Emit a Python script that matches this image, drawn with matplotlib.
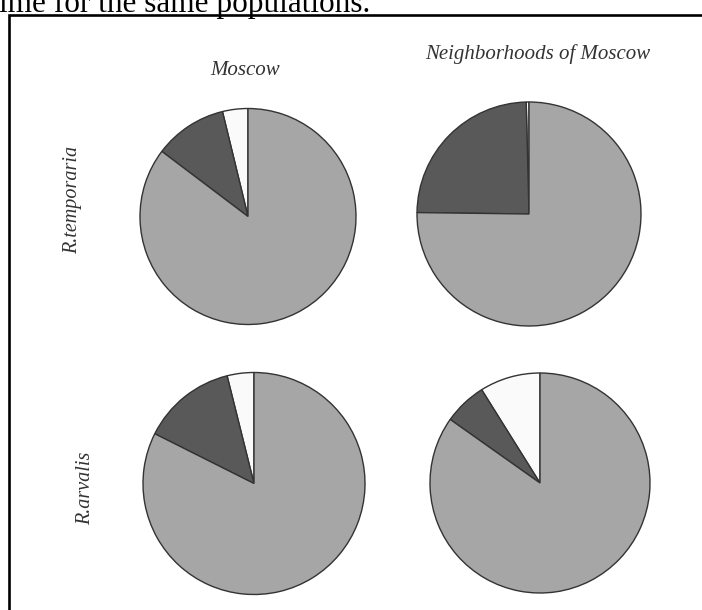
import matplotlib
matplotlib.use("Agg")
import matplotlib.pyplot as plt

# Data: share of each group (%) per population, counter-clockwise from 12 o'clock
SITES = ["Moscow", "Neighborhoods of Moscow"]
SPECIES = ["R.temporaria", "R.arvalis"]
GROUPS = ["white", "dark", "gray"]
temporaria_moscow = [3.8, 10.9, 85.3]
temporaria_neigh = [0.4, 24.4, 75.2]
arvalis_moscow = [3.9, 13.7, 82.4]
arvalis_neigh = [8.9, 6.3, 84.8]

COLORS = ["#fafafa", "#595959", "#a6a6a6"]
EDGE = "#333333"
TEXT = "#333333"
SERIF = "Liberation Serif"

W, H = 702, 610
fig = plt.figure(figsize=(W / 100, H / 100), dpi=100)
ax = fig.add_axes([0, 0, 1, 1])

# pie layout in pixel space (x right, y measured from top)
layout = [
    (temporaria_moscow, (248, 216.5), 108),
    (temporaria_neigh, (529, 214), 112),
    (arvalis_moscow, (254, 483.5), 111),
    (arvalis_neigh, (540, 483), 110),
]
for vals, (cx, cy), r in layout:
    ax.pie(vals, colors=COLORS, startangle=90, counterclock=True,
           center=(cx, H - cy), radius=r, frame=True,
           wedgeprops=dict(edgecolor=EDGE, linewidth=1.0))

ax.set_xlim(0, W)
ax.set_ylim(0, H)
ax.set_aspect("auto")
ax.axis("off")

# panel frame (only left and top edges are inside the crop)
ax.plot([9, 9, W + 5], [-5, H - 15, H - 15], color="black", lw=1.9,
        solid_joinstyle="miter", clip_on=False)

# cropped caption line from the surrounding document
ax.text(-1, H - 12, "ime for the same populations.", family=SERIF,
        fontsize=22.5, color="black", ha="left", va="baseline")

# column headers
ax.text(245, H - 75, SITES[0], family=SERIF, style="italic",
        fontsize=15, color=TEXT, ha="center", va="baseline")
ax.text(538, H - 59, SITES[1], family=SERIF, style="italic",
        fontsize=15, color=TEXT, ha="center", va="baseline")

# row headers
ax.text(73, H - 200, SPECIES[0], family=SERIF, style="italic",
        fontsize=14.5, color=TEXT, ha="center", va="center", rotation=90)
ax.text(86, H - 488, SPECIES[1], family=SERIF, style="italic",
        fontsize=14.5, color=TEXT, ha="center", va="center", rotation=90)

fig.savefig("out.png", dpi=100)
